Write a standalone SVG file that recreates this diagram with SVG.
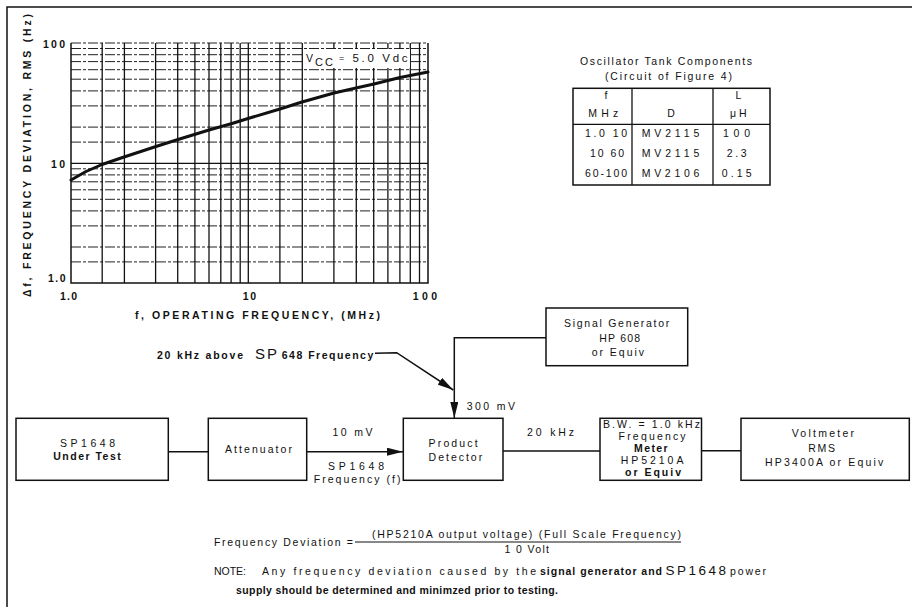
<svg xmlns="http://www.w3.org/2000/svg" width="918" height="607" viewBox="0 0 918 607">
<style>
text{font-family:"Liberation Sans",Arial,sans-serif;fill:#111;font-size:10.5px;}
.b{font-weight:bold;}
.box{fill:#fff;stroke:#111;stroke-width:1.5;}
.ln{fill:none;stroke:#111;stroke-width:1.5;}
.gv{stroke:#111;stroke-width:1.3;}
.gh{stroke:#222;stroke-width:1;stroke-dasharray:10 2 3 2;}
.ax{fill:none;stroke:#111;stroke-width:1.5;}
.m{text-anchor:middle;}
</style>
<defs>
<marker id="ah" viewBox="0 0 16 8" refX="16" refY="4" markerWidth="16" markerHeight="8" markerUnits="userSpaceOnUse" orient="auto"><path d="M0,0 L16,4 L0,8 z" fill="#111"/></marker>
</defs>
<rect width="918" height="607" fill="#fff"/>
<path class="ln" d="M7,607 V7 H912"/>

<g id="chart">
<g>
<line class="gh" x1="71" y1="261.9" x2="428" y2="261.9"/>
<line class="gh" x1="71" y1="247" x2="428" y2="247"/>
<line class="gh" x1="71" y1="225.9" x2="428" y2="225.9"/>
<line class="gh" x1="71" y1="210.9" x2="428" y2="210.9"/>
<line class="gh" x1="71" y1="199.3" x2="428" y2="199.3"/>
<line class="gh" x1="71" y1="189.8" x2="428" y2="189.8"/>
<line class="gh" x1="71" y1="181.8" x2="428" y2="181.8"/>
<line class="gh" x1="71" y1="174.9" x2="428" y2="174.9"/>
<line class="gh" x1="71" y1="168.8" x2="428" y2="168.8"/>
<line class="gv" x1="71" y1="163.3" x2="428" y2="163.3"/>
<line class="gh" x1="71" y1="142.1" x2="428" y2="142.1"/>
<line class="gh" x1="71" y1="127.1" x2="428" y2="127.1"/>
<line class="gh" x1="71" y1="105.9" x2="428" y2="105.9"/>
<line class="gh" x1="71" y1="90.9" x2="428" y2="90.9"/>
<line class="gh" x1="71" y1="79.2" x2="428" y2="79.2"/>
<line class="gh" x1="71" y1="69.7" x2="428" y2="69.7"/>
<line class="gh" x1="71" y1="61.6" x2="428" y2="61.6"/>
<line class="gh" x1="71" y1="54.7" x2="428" y2="54.7"/>
<line class="gh" x1="71" y1="48.5" x2="428" y2="48.5"/>
<line class="gh" x1="71" y1="43" x2="428" y2="43"/>
</g>
<g>
<line class="gv" x1="102.2" y1="43" x2="102.2" y2="283"/>
<line class="gv" x1="124.4" y1="43" x2="124.4" y2="283"/>
<line class="gv" x1="155.6" y1="43" x2="155.6" y2="283"/>
<line class="gv" x1="177.7" y1="43" x2="177.7" y2="283"/>
<line class="gv" x1="194.9" y1="43" x2="194.9" y2="283"/>
<line class="gv" x1="209" y1="43" x2="209" y2="283"/>
<line class="gv" x1="220.8" y1="43" x2="220.8" y2="283"/>
<line class="gv" x1="231.1" y1="43" x2="231.1" y2="283"/>
<line class="gv" x1="240.2" y1="43" x2="240.2" y2="283"/>
<line class="gv" x1="248.3" y1="43" x2="248.3" y2="283"/>
<line class="gv" x1="279.9" y1="43" x2="279.9" y2="283"/>
<line class="gv" x1="302.3" y1="43" x2="302.3" y2="283"/>
<line class="gv" x1="333.9" y1="43" x2="333.9" y2="283"/>
<line class="gv" x1="356.3" y1="43" x2="356.3" y2="283"/>
<line class="gv" x1="373.7" y1="43" x2="373.7" y2="283"/>
<line class="gv" x1="387.9" y1="43" x2="387.9" y2="283"/>
<line class="gv" x1="399.9" y1="43" x2="399.9" y2="283"/>
<line class="gv" x1="410.3" y1="43" x2="410.3" y2="283"/>
<line class="gv" x1="419.5" y1="43" x2="419.5" y2="283"/>
</g>
<path class="ax" d="M71,43 V283 H428 V43"/>
<rect x="304" y="49" width="106" height="19" fill="#fff"/>
<polyline fill="none" stroke="#111" stroke-width="3" stroke-linejoin="round" stroke-linecap="round" points="71,180 86,171.5 102,164.5 124,157 156,146.5 178,139.5 196,134 209,130 232,123.5 248,118.5 280,109 302,102 334,93 356,88 374,84 400,77.5 428,72"/>
<text class="b" x="43" y="47.5" font-size="11" textLength="22">100</text>
<text class="b" x="51" y="168" font-size="11" textLength="14">10</text>
<text class="b" x="48" y="282" font-size="11" textLength="17.5">1.0</text>
<text class="b" x="60" y="299.5" font-size="11" textLength="17">1.0</text>
<text class="b" x="242.7" y="299.5" font-size="11" textLength="13.5">10</text>
<text class="b" x="412.7" y="299.5" font-size="11" textLength="24.5">100</text>
<text class="b" x="135" y="319" font-size="11" textLength="245">f, OPERATING FREQUENCY, (MHz)</text>
<text class="b" transform="translate(31,297) rotate(-90)" font-size="11" textLength="283">Δf, FREQUENCY DEVIATION, RMS (Hz)</text>
<text x="306" y="62" font-size="12">V<tspan x="315" y="65.5" font-size="11" textLength="18">CC</tspan><tspan x="339" y="61" font-size="9">=</tspan><tspan x="352.5" y="62" font-size="11.5" textLength="55">5.0 Vdc</tspan></text>
</g>

<g id="table">
<text x="580" y="65" textLength="172">Oscillator Tank Components</text>
<text x="605" y="79.5" textLength="127">(Circuit of Figure 4)</text>
<rect x="573" y="88.3" width="197" height="96.7" fill="none" stroke="#111" stroke-width="1.5"/>
<line x1="632" y1="88.3" x2="632" y2="185" stroke="#111" stroke-width="1.3"/>
<line x1="713" y1="88.3" x2="713" y2="185" stroke="#111" stroke-width="1.3"/>
<line x1="573" y1="124.3" x2="770" y2="124.3" stroke="#111" stroke-width="1.3"/>
<text class="m" x="606" y="99.3">f</text>
<text x="588.3" y="117.3" textLength="30">MHz</text>
<text class="m" x="671" y="117.3">D</text>
<text class="m" x="738.3" y="99.3">L</text>
<text x="730" y="117.3" textLength="16.7">μH</text>
<text x="585" y="137.3" font-size="11" textLength="42">1.0 10</text>
<text x="590" y="157.3" font-size="11" textLength="34">10 60</text>
<text x="585" y="177.3" font-size="11" textLength="42">60-100</text>
<text x="641.7" y="137.3" font-size="11" textLength="57.6">MV2115</text>
<text x="641.7" y="157.3" font-size="11" textLength="57.6">MV2115</text>
<text x="641.7" y="177.3" font-size="11" textLength="57.6">MV2106</text>
<text x="723" y="137.3" font-size="11" textLength="27">100</text>
<text x="726.7" y="157.3" font-size="11" textLength="20">2.3</text>
<text x="721.7" y="177.3" font-size="11" textLength="30">0.15</text>
</g>

<g id="connectors">
<path class="ln" d="M168,451.7 H208"/>
<path class="ln" d="M307,451.7 H403" marker-end="url(#ah)"/>
<path class="ln" d="M503,451 H600"/>
<path class="ln" d="M701,450.7 H741"/>
<path class="ln" d="M546,337.7 H454.3 V418" marker-end="url(#ah)"/>
<path class="ln" d="M375,353.3 L396.7,352.7 L453.3,390" marker-end="url(#ah)"/>
</g>

<g id="callout">
<text class="b" x="157" y="359" font-size="10.5"><tspan x="157" textLength="86">20 kHz above</tspan> <tspan x="255" font-size="15" font-weight="normal" textLength="22">SP</tspan> <tspan x="281.7" textLength="91.6">648 Frequency</tspan></text>
<text x="466.7" y="409.5" textLength="48.3">300 mV</text>
<text x="332.5" y="436" textLength="40">10 mV</text>
<text x="328" y="470" font-size="12.5" textLength="56">SP1648</text>
<text x="313.7" y="483" textLength="86.7">Frequency (f)</text>
<text x="527" y="436" textLength="47">20 kHz</text>
</g>

<g id="sig-gen">
<rect class="box" x="546" y="308" width="141.7" height="57.7"/>
<text x="564" y="326.5" textLength="105.3">Signal Generator</text>
<text x="599.3" y="341.5" textLength="40.7">HP 608</text>
<text x="591.7" y="355.5" textLength="52.3">or Equiv</text>
</g>

<g id="dut">
<rect class="box" x="16" y="418.3" width="152.3" height="62"/>
<text x="60" y="446.7" font-size="12" textLength="55">SP1648</text>
<text class="b" x="53.3" y="460" textLength="67.4">Under Test</text>
</g>

<g id="attenuator">
<rect class="box" x="208.3" y="418.3" width="98.4" height="62"/>
<text x="225" y="453" textLength="67">Attenuator</text>
</g>

<g id="product-detector">
<rect class="box" x="403.3" y="418.3" width="99.7" height="62"/>
<text x="428.6" y="447" textLength="49">Product</text>
<text x="428.6" y="461" textLength="53.6">Detector</text>
</g>

<g id="freq-meter">
<rect class="box" x="600" y="418.3" width="101.5" height="62"/>
<text x="603" y="428.3" textLength="97">B.W. = 1.0 kHz</text>
<text x="618.6" y="440.3" textLength="67">Frequency</text>
<text class="b" x="634" y="452.3" textLength="33.7">Meter</text>
<text x="620.8" y="464.3" textLength="62.6">HP5210A</text>
<text class="b" x="625" y="476.3" textLength="56">or Equiv</text>
</g>

<g id="voltmeter">
<rect class="box" x="741" y="418.3" width="168.3" height="62"/>
<text x="791.7" y="437.3" textLength="62.3">Voltmeter</text>
<text x="808.3" y="451.7" textLength="26.7">RMS</text>
<text x="765" y="465.7" textLength="118.3">HP3400A or Equiv</text>
</g>

<g id="formula">
<text x="214" y="546" textLength="139">Frequency Deviation =</text>
<text x="372" y="537.5" textLength="309">(HP5210A output voltage) (Full Scale Frequency)</text>
<line x1="355" y1="542" x2="681" y2="542" stroke="#111" stroke-width="1.2"/>
<text x="504.6" y="553" textLength="44.4">1 0 Volt</text>
</g>

<g id="note">
<text x="214" y="575"><tspan x="214" textLength="32">NOTE:</tspan> <tspan x="262" textLength="274">Any frequency deviation caused by the</tspan> <tspan x="540" class="b" textLength="122">signal generator and</tspan> <tspan x="665.5" font-size="13.5" textLength="60.5">SP1648</tspan> <tspan x="730" textLength="36">power</tspan></text>
<text class="b" x="236" y="594" textLength="322">supply should be determined and minimzed prior to testing.</text>
</g>
</svg>
